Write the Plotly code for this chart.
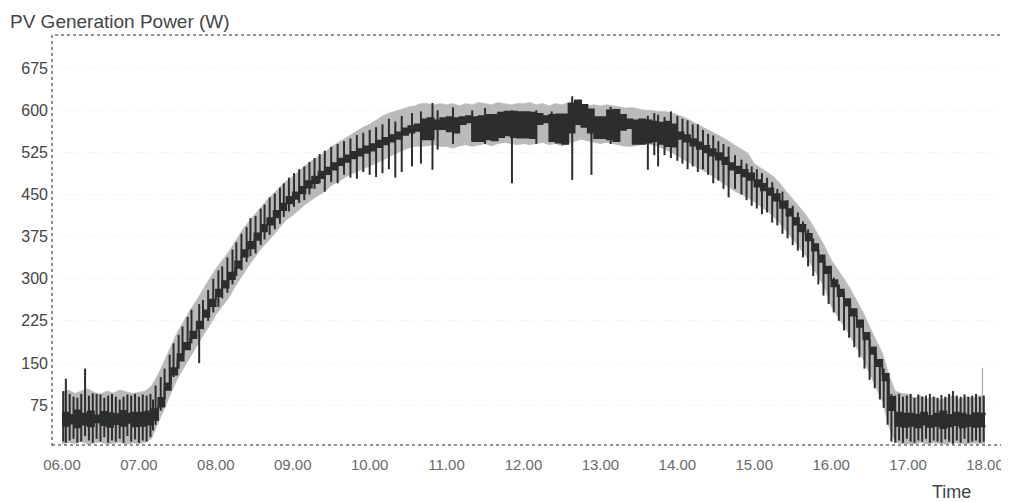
import pandas as pd
import plotly.graph_objects as go

DAY = "2024-01-01 "

# 5-minute grid 06:00 ... 18:00 (145 samples)
grid = pd.date_range(DAY + "06:00", DAY + "18:00", freq="5min")

# light-grey envelope (W), one row per hour of 12 five-minute samples
gray_hi = [
    98, 102, 96, 100, 104, 98, 95, 100, 97, 102, 99, 96,
    98, 100, 110, 130, 155, 180, 205, 225, 245, 262, 282, 300,
    318, 332, 348, 366, 385, 400, 414, 428, 440, 452, 464, 474,
    482, 492, 502, 510, 518, 525, 535, 542, 548, 555, 562, 570,
    575, 582, 590, 595, 598, 602, 606, 608, 612, 612, 610, 612,
    610, 612, 608, 612, 610, 614, 612, 610, 614, 612, 610, 612,
    612, 614, 610, 612, 608, 612, 610, 614, 615, 612, 608, 610,
    608, 610, 608, 606, 604, 605, 602, 600, 600, 598, 598, 596,
    592, 588, 582, 576, 570, 565, 558, 552, 545, 538, 530, 524,
    505, 498, 490, 482, 470, 456, 442, 430, 415, 398, 378, 358,
    334, 318, 300, 282, 262, 240, 215, 192, 168, 130, 100, 96,
    95, 88, 92, 86, 90, 84, 88, 92, 86, 90, 88, 92,
    90,
]
gray_lo = [
    5, 8, 6, 10, 5, 7, 9, 5, 6, 8, 5, 7,
    6, 8, 15, 40, 68, 95, 120, 140, 160, 178, 198, 215,
    235, 250, 265, 285, 303, 320, 336, 352, 364, 378, 392, 404,
    412, 422, 432, 440, 448, 455, 465, 472, 478, 485, 490, 495,
    500, 505, 510, 517, 522, 528, 532, 535, 535, 536, 538, 535,
    535, 532, 536, 538, 535, 538, 540, 536, 540, 542, 540, 538,
    540, 538, 540, 542, 538, 540, 536, 540, 545, 548, 545, 542,
    540, 542, 540, 538, 535, 535, 538, 540, 538, 535, 530, 525,
    518, 512, 505, 498, 492, 486, 478, 470, 462, 455, 450, 444,
    436, 428, 420, 410, 398, 384, 370, 356, 340, 322, 302, 282,
    250, 232, 215, 196, 176, 155, 130, 105, 80, 35, 8, 6,
    6, 5, 8, 5, 7, 6, 5, 8, 6, 5, 7, 6,
    6,
]
# dark measured-power core (W)
dark_hi = [
    62, 58, 66, 60, 64, 57, 63, 61, 59, 65, 60, 62,
    62, 64, 68, 88, 114, 141, 166, 186, 206, 224, 244, 263,
    281, 296, 311, 331, 351, 366, 381, 396, 408, 421, 434, 446,
    454, 464, 474, 482, 491, 498, 506, 514, 520, 526, 531, 536,
    540, 546, 551, 556, 561, 568, 572, 575, 584, 586, 582, 586,
    588, 586, 588, 590, 588, 590, 592, 592, 596, 598, 598, 597,
    597, 596, 594, 590, 592, 593, 593, 612, 618, 610, 602, 588,
    588, 600, 601, 592, 584, 582, 584, 582, 580, 578, 580, 575,
    561, 556, 549, 543, 537, 531, 524, 516, 506, 500, 494, 488,
    476, 469, 461, 451, 438, 424, 408, 396, 380, 362, 342, 322,
    298, 281, 264, 246, 226, 204, 178, 156, 131, 90, 62, 60,
    60, 58, 62, 56, 60, 64, 58, 62, 60, 57, 61, 60,
    58,
]
dark_lo = [
    38, 42, 35, 40, 37, 44, 39, 36, 41, 38, 43, 37,
    38, 40, 48, 72, 102, 129, 154, 174, 194, 212, 232, 251,
    269, 284, 299, 319, 339, 354, 369, 384, 396, 409, 422, 434,
    442, 452, 462, 470, 479, 486, 494, 502, 508, 514, 519, 524,
    528, 534, 539, 544, 549, 556, 560, 563, 548, 548, 566, 566,
    562, 560, 575, 578, 545, 545, 548, 546, 552, 555, 552, 551,
    551, 550, 575, 578, 545, 542, 540, 560, 575, 570, 560, 550,
    550, 548, 545, 565, 568, 540, 540, 542, 545, 540, 536, 535,
    549, 544, 537, 531, 525, 519, 512, 504, 494, 488, 482, 476,
    464, 457, 449, 439, 426, 412, 396, 384, 368, 350, 330, 310,
    286, 269, 252, 234, 214, 192, 166, 144, 119, 66, 38, 36,
    38, 35, 40, 36, 38, 34, 37, 39, 35, 38, 36, 37,
    36,
]

# short-term fluctuations of the measured power: time, low, high (W)
spike_t = [
    "06:01", "06:03", "06:06", "06:09", "06:12", "06:15", "06:18", "06:21", "06:24", "06:27",
    "06:30", "06:33", "06:36", "06:39", "06:42", "06:45", "06:48", "06:51", "06:54", "06:57",
    "07:00", "07:03", "07:06", "07:09", "07:11", "07:13", "07:17", "07:20", "07:24", "07:27",
    "07:31", "07:34", "07:38", "07:41", "07:47", "07:50", "07:54", "07:58", "08:02", "08:05",
    "08:09", "08:13", "08:16", "08:20", "08:24", "08:27", "08:31", "08:35", "08:38", "08:42",
    "08:46", "08:50", "08:53", "08:57", "09:01", "09:05", "09:09", "09:13", "09:17", "09:21",
    "09:25", "09:30", "09:35", "09:40", "09:45", "09:50", "09:55", "10:00", "10:05", "10:10",
    "10:15", "10:20", "10:25", "10:33", "10:40", "10:49", "10:53", "11:05", "11:20", "11:30",
    "11:51", "12:10", "12:22", "12:38", "12:53", "13:08", "13:37", "13:42", "13:45", "13:50",
    "13:55", "14:00", "14:04", "14:08", "14:12", "14:16", "14:20", "14:24", "14:28", "14:32",
    "14:36", "14:40", "14:45", "14:50", "14:54", "14:58", "15:02", "15:06", "15:10", "15:14",
    "15:18", "15:22", "15:26", "15:30", "15:34", "15:38", "15:42", "15:46", "15:50", "15:54",
    "15:58", "16:02", "16:06", "16:10", "16:14", "16:18", "16:22", "16:26", "16:30", "16:34",
    "16:38", "16:41", "16:44", "16:47", "16:50", "16:53", "16:56", "16:59", "17:02", "17:05",
    "17:08", "17:11", "17:14", "17:17", "17:20", "17:23", "17:26", "17:29", "17:32", "17:35",
    "17:38", "17:41", "17:44", "17:47", "17:50", "17:53", "17:56", "17:59",
]
spike_lo = [
    10, 8, 12, 15, 8, 10, 20, 12, 8, 15,
    10, 18, 8, 12, 10, 15, 8, 20, 10, 14,
    8, 12, 10, 18, 30, 40, 65, 85, 110, 125,
    140, 155, 175, 185, 150, 210, 225, 240, 250, 265,
    275, 290, 305, 315, 330, 340, 345, 360, 370, 378,
    388, 398, 410, 420, 428, 435, 440, 450, 460, 470,
    455, 472, 470, 485, 480, 478, 490, 485, 481, 488,
    495, 480, 490, 500, 505, 494, 530, 540, 545, 540,
    470, 540, 545, 476, 485, 540, 494, 520, 500, 520,
    515, 510, 505, 495, 500, 490, 495, 485, 470, 475,
    460, 445, 460, 450, 440, 430, 425, 415, 418, 400,
    395, 380, 372, 360, 350, 338, 322, 305, 290, 270,
    255, 240, 225, 208, 195, 178, 160, 140, 120, 105,
    85, 70, 40, 10, 8, 12, 8, 15, 10, 8,
    12, 10, 15, 8, 12, 10, 8, 14, 10, 6,
    12, 8, 15, 8, 10, 12, 8, 10,
]
spike_hi = [
    100, 122, 95, 90, 88, 95, 140, 92, 96, 95,
    94, 88, 92, 95, 90, 85, 90, 94, 92, 95,
    90, 94, 92, 95, 85, 110, 125, 140, 165, 185,
    200, 215, 232, 245, 255, 262, 280, 300, 315, 322,
    338, 352, 365, 380, 392, 408, 412, 425, 432, 445,
    452, 462, 470, 480, 488, 495, 500, 508, 515, 522,
    528, 535, 540, 545, 550, 556, 560, 565, 570, 575,
    585, 580, 590, 595, 598, 613, 600, 605, 600, 604,
    600, 600, 598, 625, 598, 606, 590, 595, 592, 588,
    598, 590, 585, 582, 575, 575, 565, 558, 555, 545,
    540, 535, 520, 512, 505, 500, 495, 488, 480, 472,
    460, 455, 440, 430, 418, 402, 388, 372, 352, 334,
    318, 302, 290, 275, 258, 240, 222, 205, 190, 172,
    155, 140, 125, 95, 92, 95, 90, 92, 95, 88,
    94, 90, 92, 95, 90, 88, 93, 90, 95, 100,
    92, 90, 94, 90, 92, 95, 90, 92,
]
# single light-grey excursion near the end of the day
gspike_t = ["17:58"]
gspike_lo = [60]
gspike_hi = [141]

y_ticks = [75, 150, 225, 300, 375, 450, 525, 600, 675]

GRAY = "#bababa"
DARK = "#2b2e2c"

fig = go.Figure()
fig.add_trace(go.Scatter(x=grid, y=gray_lo, mode="lines", line=dict(width=0, color=GRAY),
                         hoverinfo="skip", showlegend=False))
fig.add_trace(go.Scatter(x=grid, y=gray_hi, mode="lines", line=dict(width=0.5, color=GRAY),
                         fill="tonexty", fillcolor=GRAY, showlegend=False))

gx, gy = [], []
for t, lo, hi in zip(gspike_t, gspike_lo, gspike_hi):
    gx += [DAY + t, DAY + t, None]
    gy += [lo, hi, None]
fig.add_trace(go.Scatter(x=gx, y=gy, mode="lines", line=dict(width=1.2, color="#a8a8a8"),
                         showlegend=False))

fig.add_trace(go.Scatter(x=grid, y=dark_lo, mode="lines", line=dict(width=1.5, color=DARK, shape="hv"),
                         showlegend=False))
fig.add_trace(go.Scatter(x=grid, y=dark_hi, mode="lines", line=dict(width=1.5, color=DARK, shape="hv"),
                         fill="tonexty", fillcolor=DARK, showlegend=False))

sx, sy = [], []
for t, lo, hi in zip(spike_t, spike_lo, spike_hi):
    sx += [DAY + t, DAY + t, None]
    sy += [lo, hi, None]
fig.add_trace(go.Scatter(x=sx, y=sy, mode="lines", line=dict(width=2, color=DARK),
                         showlegend=False))

FONT = "Liberation Sans, Arial, sans-serif"
# page body has an 8px margin, so the figure is 8px smaller than the window
fig.update_layout(
    width=1001, height=494,
    margin=dict(l=44, r=4, t=27, b=57),
    paper_bgcolor="white", plot_bgcolor="white",
    font=dict(family=FONT, color="#444"),
    showlegend=False,
    xaxis=dict(
        type="date",
        range=[DAY + "05:52:12", DAY + "18:15:36"],
        tick0=DAY + "06:00", dtick=3600000, tickformat="%H.%M",
        tickfont=dict(size=15, color="#6a6a6a"),
        showgrid=False, zeroline=False, showline=False,
        ticks="", ticklabelstandoff=9,
    ),
    yaxis=dict(
        range=[4, 734],
        tickvals=y_ticks,
        tickfont=dict(size=16, color="#444"),
        showgrid=True, gridcolor="#f3f3f3", griddash="dot",
        zeroline=False, showline=False, ticks="", ticklabelstandoff=3,
    ),
    shapes=[dict(type="rect", xref="paper", yref="paper", x0=0, y0=0, x1=1, y1=1,
                 line=dict(color="#6e6e6e", width=1.5, dash="dot"), layer="above")],
    annotations=[
        dict(text="PV Generation Power (W)", xref="paper", yref="paper",
             x=-0.046, y=1.032, xanchor="left", yanchor="middle", showarrow=False,
             font=dict(size=19, color="#444", family=FONT)),
        dict(text="Time", xref="paper", yref="paper",
             x=0.944, y=-0.115, xanchor="center", yanchor="middle", showarrow=False,
             font=dict(size=18, color="#444", family=FONT)),
    ],
)

fig.write_html("out.html")
